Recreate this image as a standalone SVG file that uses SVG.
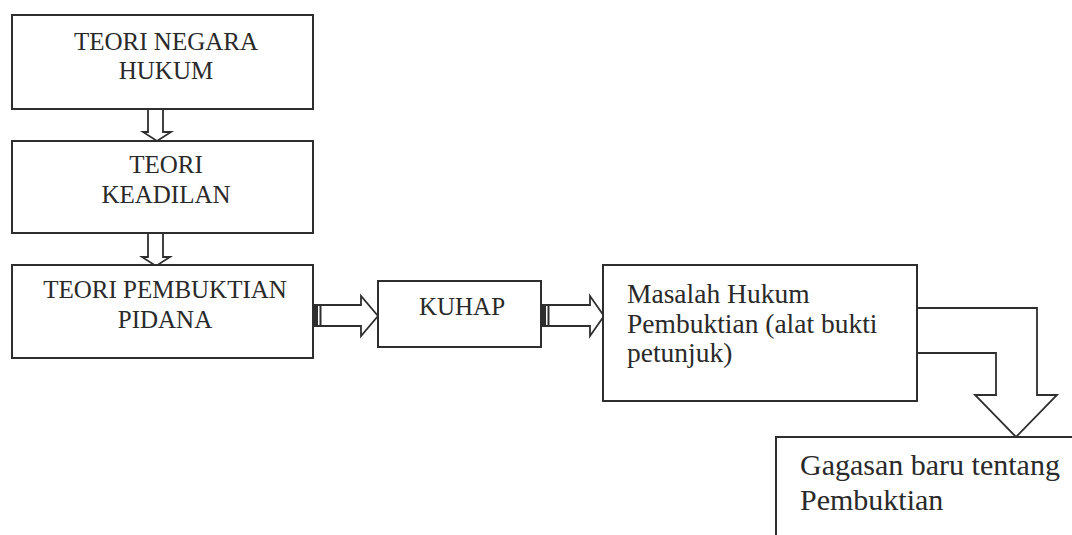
<svg xmlns="http://www.w3.org/2000/svg" width="1072" height="535" viewBox="0 0 1072 535">
<style>
.box{fill:#fff;stroke:#2e2e2e;stroke-width:2}
.arr{fill:#fff;stroke:#2e2e2e;stroke-width:1.8;stroke-linejoin:miter}
.t{font-family:"Liberation Serif","Times New Roman",serif;fill:#2a2a2a}
.c{text-anchor:middle;font-size:25px}
.l{font-size:27.5px}
.g{font-size:30px}
</style>
<rect width="1072" height="535" fill="#fff"/>
<g id="connectors">
<path class="arr" d="M148,109 V132 H143 L157,141 L171,132 H163 V109"/>
<path class="arr" d="M148,233 V257 H142 L156,266 L170,257 H163 V233"/>
<path class="arr" d="M313,305 H361 V296 L378,316 L361,336 V326 H313 Z"/>
<rect x="313" y="305" width="5" height="21" fill="#2e2e2e"/>
<line x1="320.5" y1="305" x2="320.5" y2="326" stroke="#2e2e2e" stroke-width="2"/>
<path class="arr" d="M541,305 H590 V296 L604,316 L590,336 V326 H541 Z"/>
<rect x="541" y="305" width="5" height="21" fill="#2e2e2e"/>
<line x1="548.5" y1="305" x2="548.5" y2="326" stroke="#2e2e2e" stroke-width="2"/>
<path class="arr" d="M917,308 H1037 V395 H1057 L1016,437 L975,395 H996 V353 H917"/>
</g>
<g id="n1">
<rect class="box" x="12" y="15" width="301" height="94"/>
<text class="t c" x="166" y="50">TEORI NEGARA</text>
<text class="t c" x="166" y="79">HUKUM</text>
</g>
<g id="n2">
<rect class="box" x="12" y="141" width="301" height="92"/>
<text class="t c" x="166" y="173">TEORI</text>
<text class="t c" x="166" y="203">KEADILAN</text>
</g>
<g id="n3">
<rect class="box" x="12" y="265" width="301" height="93"/>
<text class="t c" x="165" y="298">TEORI PEMBUKTIAN</text>
<text class="t c" x="165" y="328">PIDANA</text>
</g>
<g id="n4">
<rect class="box" x="378" y="281" width="163" height="66"/>
<text class="t c" x="462" y="315">KUHAP</text>
</g>
<g id="n5">
<rect class="box" x="603" y="265" width="314" height="136"/>
<text class="t l" x="627" y="303">Masalah Hukum</text>
<text class="t l" x="627" y="333">Pembuktian (alat bukti</text>
<text class="t l" x="627" y="362">petunjuk)</text>
</g>
<g id="n6">
<rect class="box" x="776" y="437" width="310" height="110"/>
<text class="t g" x="800" y="475">Gagasan baru tentang</text>
<text class="t g" x="800" y="510">Pembuktian</text>
</g>
</svg>
